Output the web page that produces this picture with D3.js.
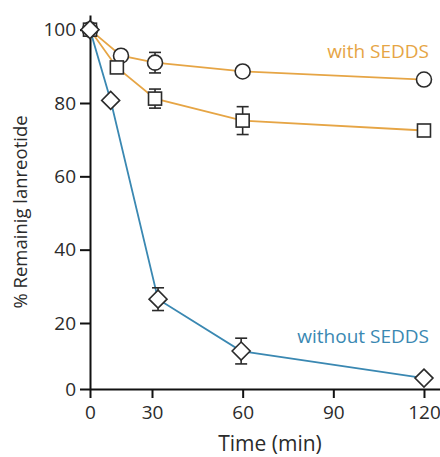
<!DOCTYPE html>
<html>
<head>
<meta charset="utf-8">
<script src="https://cdn.jsdelivr.net/npm/d3@7"></script>
<style>
  body { margin: 0; background: #fff; }
  text { font-family: "Open Sans", "Noto Sans", sans-serif; }
</style>
</head>
<body>
<div id="chart"></div>
<script>
// with SEDDS (circles)
var circleTime = [0, 15, 31, 60, 120];
var circleVal = [100, 92.9, 91, 88.6, 86.4];
var circleErr = [0, 0, 2.8, 0, 0];
// with SEDDS (squares)
var squareTime = [0, 13, 31, 60, 120];
var squareVal = [100, 89.7, 81.2, 75.2, 72.5];
var squareErr = [0, 0, 2.6, 3.8, 0];
// without SEDDS (diamonds)
var diamondTime = [0, 10, 32, 59.5, 120];
var diamondVal = [100, 80.7, 26.5, 11.5, 3.3];
var diamondErr = [0, 0, 3.1, 3.9, 0];

var xTicks = [0, 30, 60, 90, 120];
var yTicks = [0, 20, 40, 60, 80, 100];

var orange = "#E6A545";
var blue = "#3A88B2";
var ink = "#2b2b2b";

var svgWidth = 440, svgHeight = 457;

var svg = d3.select("#chart")
  .append("svg")
  .attr("width", svgWidth)
  .attr("height", svgHeight);

// the original axis is not evenly spaced near the origin
var x = d3.scaleLinear()
  .domain([0, 30, 125.3])
  .range([90, 152, 440]);

var y = d3.scaleLinear()
  .domain([0, 20, 104])
  .range([389, 323, 15]);

function toPoints(t, v, e) {
  return t.map(function(d, i) { return {t: d, v: v[i], e: e[i]}; });
}
var circles = toPoints(circleTime, circleVal, circleErr);
var squares = toPoints(squareTime, squareVal, squareErr);
var diamonds = toPoints(diamondTime, diamondVal, diamondErr);

var line = d3.line()
  .x(function(d) { return x(d.t); })
  .y(function(d) { return y(d.v); });

// axes
var xAxis = svg.append("g")
  .attr("transform", "translate(0," + y(0) + ")")
  .call(d3.axisBottom(x).tickValues(xTicks).tickSize(9).tickSizeOuter(0).tickPadding(8));

var yAxis = svg.append("g")
  .attr("transform", "translate(" + x(0) + ",0)")
  .call(d3.axisLeft(y).tickValues(yTicks).tickSize(10).tickSizeOuter(0).tickPadding(4));

[xAxis, yAxis].forEach(function(a) {
  a.selectAll("path, line").attr("stroke", "#111").attr("stroke-width", 2);
  a.selectAll("text").attr("fill", ink).style("font-size", "19px");
});
xAxis.selectAll(".tick line").attr("y1", 0);

// series lines
[circles, squares].forEach(function(s) {
  svg.append("path")
    .datum(s)
    .attr("d", line)
    .attr("fill", "none")
    .attr("stroke", orange)
    .attr("stroke-width", 1.8);
});
svg.append("path")
  .datum(diamonds)
  .attr("d", line)
  .attr("fill", "none")
  .attr("stroke", blue)
  .attr("stroke-width", 1.8);

// error bars
var all = circles.concat(squares, diamonds).filter(function(d) { return d.e > 0; });
var eb = svg.append("g")
  .selectAll("g")
  .data(all)
  .enter()
  .append("g")
  .attr("stroke", ink)
  .attr("stroke-width", 1.6);
eb.append("line")
  .attr("x1", function(d) { return x(d.t); })
  .attr("x2", function(d) { return x(d.t); })
  .attr("y1", function(d) { return y(d.v + d.e); })
  .attr("y2", function(d) { return y(d.v - d.e); });
eb.append("line")
  .attr("x1", function(d) { return x(d.t) - 6; })
  .attr("x2", function(d) { return x(d.t) + 6; })
  .attr("y1", function(d) { return y(d.v + d.e); })
  .attr("y2", function(d) { return y(d.v + d.e); });
eb.append("line")
  .attr("x1", function(d) { return x(d.t) - 6; })
  .attr("x2", function(d) { return x(d.t) + 6; })
  .attr("y1", function(d) { return y(d.v - d.e); })
  .attr("y2", function(d) { return y(d.v - d.e); });

// markers
svg.append("g")
  .selectAll("circle")
  .data(circles)
  .enter()
  .append("circle")
  .attr("cx", function(d) { return x(d.t); })
  .attr("cy", function(d) { return y(d.v); })
  .attr("r", 7.5)
  .attr("fill", "#fff")
  .attr("stroke", ink)
  .attr("stroke-width", 1.6);

svg.append("g")
  .selectAll("rect")
  .data(squares)
  .enter()
  .append("rect")
  .attr("x", function(d) { return x(d.t) - 6.5; })
  .attr("y", function(d) { return y(d.v) - 6.5; })
  .attr("width", 13)
  .attr("height", 13)
  .attr("fill", "#fff")
  .attr("stroke", ink)
  .attr("stroke-width", 1.6);

svg.append("g")
  .selectAll("path")
  .data(diamonds)
  .enter()
  .append("path")
  .attr("transform", function(d) { return "translate(" + x(d.t) + "," + y(d.v) + ")"; })
  .attr("d", "M0,-9L9,0L0,9L-9,0Z")
  .attr("fill", "#fff")
  .attr("stroke", ink)
  .attr("stroke-width", 1.6);

// labels
svg.append("text")
  .attr("x", 429)
  .attr("y", 58)
  .attr("text-anchor", "end")
  .attr("fill", orange)
  .style("font-size", "19px")
  .text("with SEDDS");

svg.append("text")
  .attr("x", 429)
  .attr("y", 343)
  .attr("text-anchor", "end")
  .attr("fill", blue)
  .style("font-size", "19px")
  .text("without SEDDS");

svg.append("text")
  .attr("x", 270)
  .attr("y", 451)
  .attr("text-anchor", "middle")
  .attr("fill", ink)
  .style("font-size", "21px")
  .text("Time (min)");

svg.append("text")
  .attr("transform", "translate(27,212) rotate(-90)")
  .attr("text-anchor", "middle")
  .attr("fill", ink)
  .style("font-size", "18.5px")
  .text("% Remainig lanreotide");
</script>
</body>
</html>
